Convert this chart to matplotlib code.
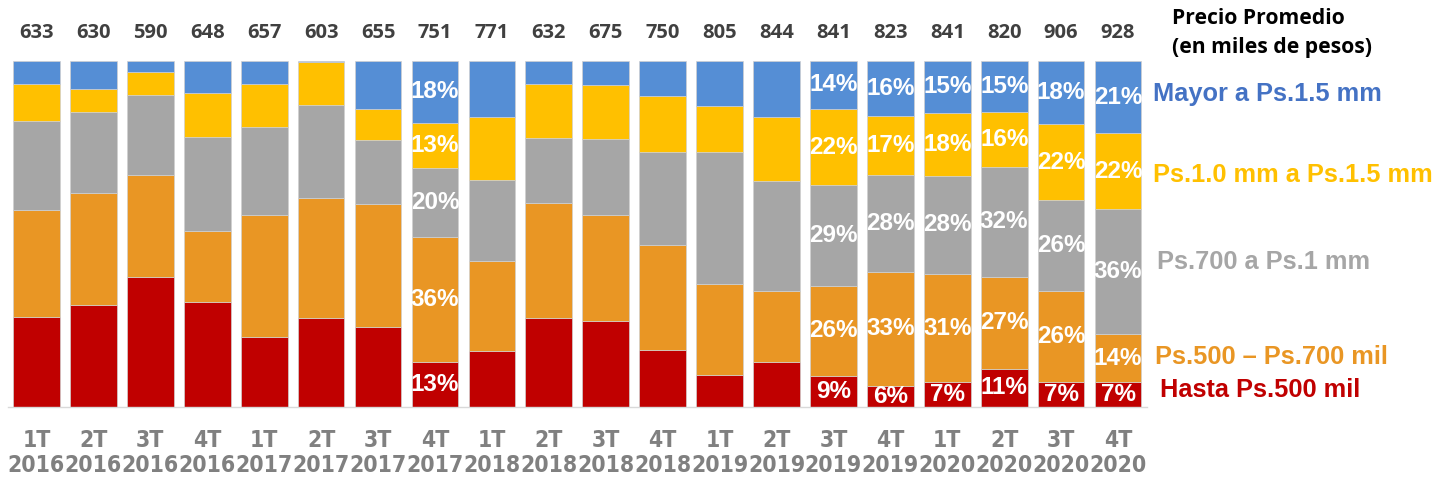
import matplotlib
matplotlib.use('Agg')
import matplotlib.pyplot as plt
import matplotlib.transforms as mtransforms
import numpy as np

# ---- datos ----
trimestres = ['1T', '2T', '3T', '4T'] * 5
anios = ['2016'] * 4 + ['2017'] * 4 + ['2018'] * 4 + ['2019'] * 4 + ['2020'] * 4
precio_promedio = [633, 630, 590, 648, 657, 603, 655, 751, 771, 632,
                   675, 750, 805, 844, 841, 823, 841, 820, 906, 928]

# participacion (%) por rango de precio, de abajo hacia arriba
hasta_500 = [26.0, 29.4, 37.4, 30.3, 20.2, 25.7, 23.1, 13, 16.2, 25.7,
             24.9, 16.4, 9.2, 13.0, 9, 6, 7, 11, 7, 7]
de_500_700 = [30.7, 32.5, 29.5, 20.5, 35.2, 34.8, 35.4, 36, 25.8, 33.0,
              30.4, 30.3, 26.1, 20.5, 26, 33, 31, 27, 26, 14]
de_700_1mm = [25.7, 23.4, 23.2, 27.1, 25.4, 26.7, 18.7, 20, 23.6, 19.0,
              22.0, 27.1, 38.3, 31.8, 29, 28, 28, 32, 26, 36]
de_1_15mm = [10.8, 6.6, 6.7, 12.9, 12.3, 12.6, 8.9, 13, 18.0, 15.4,
             15.7, 16.0, 13.2, 18.4, 22, 17, 18, 16, 22, 22]
mayor_15mm = [6.7, 8.2, 3.2, 9.2, 6.8, 0.3, 14.0, 18, 16.4, 6.8,
              7.0, 10.3, 13.1, 16.3, 14, 16, 15, 15, 18, 21]

# barras que llevan etiqueta de porcentaje
con_etiqueta = [7, 14, 15, 16, 17, 18, 19]

series = [hasta_500, de_500_700, de_700_1mm, de_1_15mm, mayor_15mm]
nombres = ['Hasta Ps.500 mil', 'Ps.500 \u2013 Ps.700 mil', 'Ps.700 a Ps.1 mm',
           'Ps.1.0 mm a Ps.1.5 mm', 'Mayor a Ps.1.5 mm']
colores = ['#C00000', '#E99624', '#A6A6A6', '#FFC000', '#558ED5']
colores_texto = ['#C00000', '#E99624', '#A6A6A6', '#FFC000', '#4472C4']

datos = np.array(series, dtype=float)
total = datos.sum(axis=0)
frac = datos / total * 100  # cada barra llega al 100%

fig = plt.figure(figsize=(14.47, 4.84), dpi=100)
ax = fig.add_axes([8 / 1447, 1 - 406.7 / 484, (1146.5 - 8) / 1447, 346 / 484])

x = np.arange(len(precio_promedio))
abajo = np.zeros(len(x))
for k in range(len(series)):
    ax.bar(x, frac[k], bottom=abajo, width=0.82, color=colores[k],
           edgecolor='#D0D0D0', linewidth=0.5)
    for i in con_etiqueta:
        ax.text(x[i], abajo[i] + frac[k][i] / 2, '%d%%' % round(series[k][i]),
                ha='center', va='center', color='white', fontsize=17.5,
                fontweight='bold', family='Liberation Sans')
    abajo += frac[k]

ax.set_xlim(-0.5, len(x) - 0.5)
ax.set_ylim(0, 100)
ax.set_xticks([])
ax.set_yticks([])
for lado in ['top', 'left', 'right']:
    ax.spines[lado].set_visible(False)
ax.spines['bottom'].set_color('#D9D9D9')
ax.spines['bottom'].set_linewidth(1)

trans = mtransforms.blended_transform_factory(ax.transData, ax.transAxes)
alto = 346.0
for i in x:
    ax.text(i, (406.7 - 32.7) / alto, str(precio_promedio[i]), transform=trans,
            ha='center', va='center', fontsize=14.5, fontweight='bold',
            color='#404040', family='Open Sans')
    ax.text(i, (406.7 - 440.7) / alto, trimestres[i], transform=trans,
            ha='center', va='center', fontsize=16.5, fontweight='bold',
            color='#808080', family='DejaVu Sans', fontstretch='condensed')
    ax.text(i, (406.7 - 466) / alto, anios[i], transform=trans,
            ha='center', va='center', fontsize=16.5, fontweight='bold',
            color='#808080', family='DejaVu Sans', fontstretch='condensed')

# ---- leyenda a la derecha ----
pos_leyenda = [(1160, 390), (1155, 357.5), (1157, 262), (1153, 175), (1153, 94)]
for k in range(len(nombres)):
    px, py = pos_leyenda[k]
    fig.text(px / 1447, 1 - py / 484, nombres[k], ha='left', va='center',
             fontsize=18.3, fontweight='bold', color=colores_texto[k],
             family='Liberation Sans')

fig.text(1172 / 1447, 1 - 18 / 484, 'Precio Promedio', ha='left', va='center',
         fontsize=15.2, fontweight='bold', color='black', family='Open Sans')
fig.text(1172 / 1447, 1 - 47 / 484, '(en miles de pesos)', ha='left', va='center',
         fontsize=15.2, fontweight='bold', color='black', family='Open Sans')

fig.savefig('out.png', dpi=100)
